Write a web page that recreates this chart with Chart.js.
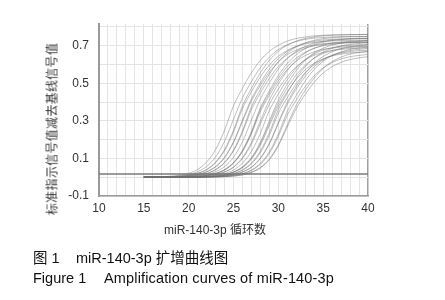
<!DOCTYPE html>
<html lang="zh">
<head>
<meta charset="UTF-8">
<title>miR-140-3p 扩增曲线图</title>
<style>
  body {
    margin: 0;
    background: #ffffff;
    font-family: 'Liberation Sans', Arial, 'Noto Sans CJK SC', sans-serif;
  }
  #wrap {
    position: relative;
    width: 445px;
    height: 300px;
    overflow: hidden;
  }
  #ampChart {
    position: absolute;
    left: 0;
    top: 0;
  }
  /* 纵轴标题, 旋转显示 */
  #y-title {
    position: absolute;
    left: 51px;
    top: 129px;
    transform: translate(-50%, -50%) rotate(-90deg);
    white-space: nowrap;
    font-size: 12px;
    letter-spacing: 0.3px;
    color: #333;
    font-family: 'Noto Sans CJK SC', sans-serif;
  }
  #x-title {
    position: absolute;
    left: 215px;
    top: 228px;
    transform: translate(-50%, -50%);
    white-space: nowrap;
    font-size: 12px;
    color: #333;
  }
  .cap {
    position: absolute;
    left: 33px;
    white-space: nowrap;
    font-size: 14.5px;
    color: #111;
  }
  .cap span { display: inline-block; }
</style>
<script src="https://cdn.jsdelivr.net/npm/chart.js@4.4.1/dist/chart.umd.min.js"></script>
</head>
<body>
<div id="wrap">
  <canvas id="ampChart" width="445" height="300"></canvas>
  <div id="y-title">标准指示信号值减去基线信号值</div>
  <div id="x-title">miR-140-3p 循环数</div>
  <div class="cap" style="top:246px;"><span style="width:43px;">图 1</span><span>miR-140-3p 扩增曲线图</span></div>
  <div class="cap" style="top:270px;"><span style="width:71px;">Figure 1</span><span style="letter-spacing:0.15px;">Amplification curves of miR-140-3p</span></div>
</div>

<script>
// 循环数 (横轴)
const cycles = [15,16,17,18,19,20,21,22,23,24,25,26,27,28,29,30,31,32,33,34,35,36,37,38,39,40];

// 坐标轴刻度
const xTicks = [10,15,20,25,30,35,40];
const yTicks = [-0.1,0.1,0.3,0.5,0.7];
const yGrid = [-0.1,0,0.1,0.2,0.3,0.4,0.5,0.6,0.7,0.8];

// 阈值线
const thresholdX = [10, 40];
const thresholdY = [0.017, 0.017];

// 各孔扩增曲线
const curve01 = [0.001,0.001,0.003,0.005,0.010,0.021,0.041,0.080,0.147,0.250,0.380,0.473,0.556,0.622,0.670,0.702,0.724,0.738,0.746,0.752,0.755,0.757,0.758,0.759,0.759,0.760];
const curve02 = [0.000,0.001,0.002,0.004,0.007,0.014,0.029,0.057,0.107,0.191,0.308,0.422,0.509,0.583,0.639,0.679,0.705,0.722,0.733,0.740,0.743,0.746,0.748,0.749,0.749,0.749];
const curve03 = [0.000,0.001,0.001,0.003,0.005,0.010,0.021,0.041,0.080,0.147,0.250,0.380,0.473,0.556,0.622,0.670,0.702,0.724,0.738,0.746,0.752,0.755,0.757,0.758,0.759,0.759];
const curve04 = [0.000,0.001,0.001,0.002,0.005,0.010,0.020,0.039,0.077,0.141,0.240,0.365,0.454,0.534,0.597,0.643,0.675,0.696,0.709,0.717,0.722,0.725,0.727,0.728,0.729,0.729];
const curve05 = [0.000,0.000,0.001,0.002,0.003,0.007,0.014,0.029,0.056,0.106,0.189,0.304,0.416,0.502,0.575,0.630,0.670,0.696,0.713,0.723,0.730,0.733,0.736,0.738,0.739,0.739];
const curve06 = [0.000,0.000,0.001,0.001,0.002,0.005,0.010,0.019,0.039,0.076,0.139,0.237,0.360,0.448,0.526,0.589,0.634,0.665,0.686,0.699,0.707,0.712,0.715,0.717,0.718,0.719];
const curve07 = [0.000,0.000,0.000,0.001,0.002,0.003,0.007,0.014,0.029,0.056,0.106,0.189,0.304,0.416,0.502,0.575,0.630,0.670,0.696,0.713,0.723,0.730,0.733,0.736,0.738,0.739];
const curve08 = [0.000,0.000,0.000,0.001,0.001,0.002,0.005,0.010,0.019,0.039,0.076,0.139,0.237,0.360,0.448,0.526,0.589,0.634,0.665,0.686,0.699,0.707,0.712,0.715,0.717,0.718];
const curve09 = [0.000,0.000,0.000,0.001,0.001,0.002,0.005,0.010,0.019,0.038,0.074,0.135,0.230,0.350,0.435,0.512,0.573,0.617,0.647,0.667,0.680,0.687,0.692,0.695,0.697,0.698];
const curve10 = [0.000,0.000,0.000,0.000,0.001,0.002,0.003,0.007,0.014,0.028,0.055,0.104,0.186,0.300,0.410,0.496,0.567,0.622,0.661,0.686,0.703,0.713,0.720,0.723,0.726,0.728];
const curve11 = [0.000,0.000,0.000,0.000,0.001,0.002,0.003,0.007,0.013,0.027,0.052,0.099,0.176,0.284,0.388,0.469,0.536,0.588,0.624,0.649,0.664,0.674,0.680,0.684,0.687,0.688];
const curve12 = [0.000,0.000,0.000,0.000,0.001,0.001,0.002,0.005,0.010,0.019,0.038,0.075,0.137,0.234,0.355,0.442,0.519,0.581,0.626,0.656,0.677,0.689,0.697,0.702,0.705,0.707];
const curve13 = [0.000,0.000,0.000,0.000,0.000,0.001,0.002,0.003,0.007,0.013,0.027,0.053,0.100,0.179,0.288,0.393,0.475,0.544,0.596,0.634,0.658,0.674,0.684,0.690,0.694,0.697];
const curve14 = [0.000,0.000,0.000,0.000,0.000,0.001,0.002,0.003,0.006,0.013,0.026,0.051,0.096,0.171,0.275,0.377,0.455,0.521,0.571,0.606,0.630,0.645,0.655,0.661,0.664,0.667];
const curve15 = [0.000,0.000,0.000,0.000,0.000,0.001,0.001,0.002,0.005,0.010,0.019,0.039,0.076,0.139,0.237,0.360,0.448,0.526,0.589,0.634,0.665,0.686,0.699,0.707,0.712,0.715];
const curve16 = [0.000,0.000,0.000,0.000,0.000,0.001,0.001,0.002,0.005,0.009,0.018,0.037,0.071,0.131,0.224,0.340,0.423,0.497,0.556,0.599,0.628,0.648,0.660,0.668,0.673,0.675];
const curve17 = [0.000,0.000,0.000,0.000,0.000,0.000,0.001,0.002,0.003,0.007,0.013,0.027,0.052,0.099,0.176,0.284,0.388,0.469,0.536,0.588,0.624,0.649,0.664,0.674,0.680,0.684];
const curve18 = [0.000,0.000,0.000,0.000,0.000,0.000,0.001,0.001,0.002,0.004,0.009,0.018,0.036,0.069,0.127,0.217,0.330,0.411,0.482,0.540,0.581,0.610,0.629,0.641,0.648,0.653];
const curve19 = [0.000,0.000,0.000,0.000,0.000,0.000,0.001,0.001,0.002,0.005,0.010,0.019,0.038,0.074,0.135,0.230,0.350,0.435,0.512,0.573,0.617,0.647,0.667,0.680,0.687,0.692];
const curve20 = [0.000,0.000,0.000,0.000,0.000,0.000,0.000,0.001,0.001,0.003,0.006,0.012,0.025,0.049,0.093,0.166,0.267,0.365,0.441,0.505,0.554,0.588,0.611,0.626,0.635,0.641];
const curve21 = [0.000,0.000,0.001,0.001,0.002,0.005,0.010,0.020,0.041,0.079,0.145,0.247,0.375,0.467,0.548,0.614,0.661,0.693,0.715,0.728,0.737,0.742,0.745,0.747,0.748,0.749];
const curve22 = [0.000,0.000,0.000,0.000,0.000,0.001,0.002,0.003,0.007,0.014,0.028,0.055,0.104,0.186,0.300,0.410,0.496,0.567,0.622,0.661,0.686,0.703,0.713,0.720,0.723,0.726];
const curve23 = [0.000,0.000,0.001,0.002,0.003,0.007,0.014,0.028,0.055,0.103,0.184,0.296,0.405,0.489,0.559,0.613,0.652,0.677,0.693,0.703,0.710,0.714,0.716,0.718,0.719,0.719];
const curve24 = [0.000,0.000,0.000,0.000,0.000,0.000,0.000,0.001,0.002,0.003,0.006,0.013,0.027,0.052,0.097,0.173,0.279,0.382,0.462,0.528,0.579,0.615,0.639,0.655,0.664,0.670];
const curve25 = [0.000,0.000,0.000,0.001,0.001,0.002,0.005,0.010,0.020,0.040,0.078,0.143,0.243,0.370,0.460,0.541,0.605,0.652,0.684,0.705,0.719,0.727,0.732,0.735,0.737,0.738];
const curve26 = [0.000,0.000,0.000,0.000,0.000,0.000,0.001,0.002,0.003,0.007,0.013,0.028,0.054,0.102,0.181,0.292,0.399,0.482,0.552,0.605,0.643,0.667,0.684,0.694,0.700,0.704];

const curves = [curve01,curve02,curve03,curve04,curve05,curve06,curve07,curve08,curve09,curve10,
                curve11,curve12,curve13,curve14,curve15,curve16,curve17,curve18,curve19,curve20,
                curve21,curve22,curve23,curve24,curve25,curve26];

const datasets = curves.map(function(c) {
  return {
    data: cycles.map((x, i) => ({x: x, y: c[i]})),
    borderColor: 'rgba(110,110,110,0.5)',
    borderWidth: 0.9,
    pointRadius: 0,
    tension: 0.3,
    fill: false
  };
});

// 阈值线放最后画
datasets.push({
  data: thresholdX.map((x, i) => ({x: x, y: thresholdY[i]})),
  borderColor: '#7a7a7a',
  borderWidth: 1.3,
  pointRadius: 0,
  fill: false
});

const tickFont = {family: "'Liberation Sans', Arial, sans-serif", size: 12};

new Chart(document.getElementById('ampChart'), {
  type: 'line',
  data: {datasets: datasets},
  options: {
    responsive: false,
    animation: false,
    devicePixelRatio: 1,
    layout: {padding: {left: 0, top: 24, right: 77, bottom: 84}},
    plugins: {legend: {display: false}, tooltip: {enabled: false}},
    scales: {
      x: {
        type: 'linear',
        min: 10,
        max: 40,
        afterBuildTicks: function(scale) {
          const t = [];
          for (let v = 10; v <= 40; v++) t.push({value: v});
          scale.ticks = t;
        },
        afterFit: function(scale) { scale.height = 20; },
        ticks: {
          autoSkip: false,
          maxRotation: 0,
          padding: 5,
          color: '#333',
          font: tickFont,
          callback: v => xTicks.includes(v) ? String(v) : ''
        },
        grid: {
          drawTicks: false,
          color: ctx => (ctx.tick && ctx.tick.value === 40) ? '#a0a0a0' : '#e4e4e4',
          lineWidth: ctx => (ctx.tick && ctx.tick.value === 40) ? 1.5 : 1
        },
        border: {color: '#9a9a9a', width: 1.5}
      },
      y: {
        min: -0.1,
        max: 0.815,
        afterBuildTicks: function(scale) {
          scale.ticks = yGrid.map(v => ({value: v}));
        },
        afterFit: function(scale) { scale.width = 99; },
        ticks: {
          autoSkip: false,
          padding: 10,
          color: '#333',
          font: tickFont,
          callback: function(v) {
            const hit = yTicks.find(t => Math.abs(t - v) < 1e-6);
            return hit === undefined ? '' : v.toFixed(1);
          }
        },
        grid: {drawTicks: false, color: '#e4e4e4', lineWidth: 1},
        border: {color: '#9a9a9a', width: 2}
      }
    }
  }
});
</script>
</body>
</html>
